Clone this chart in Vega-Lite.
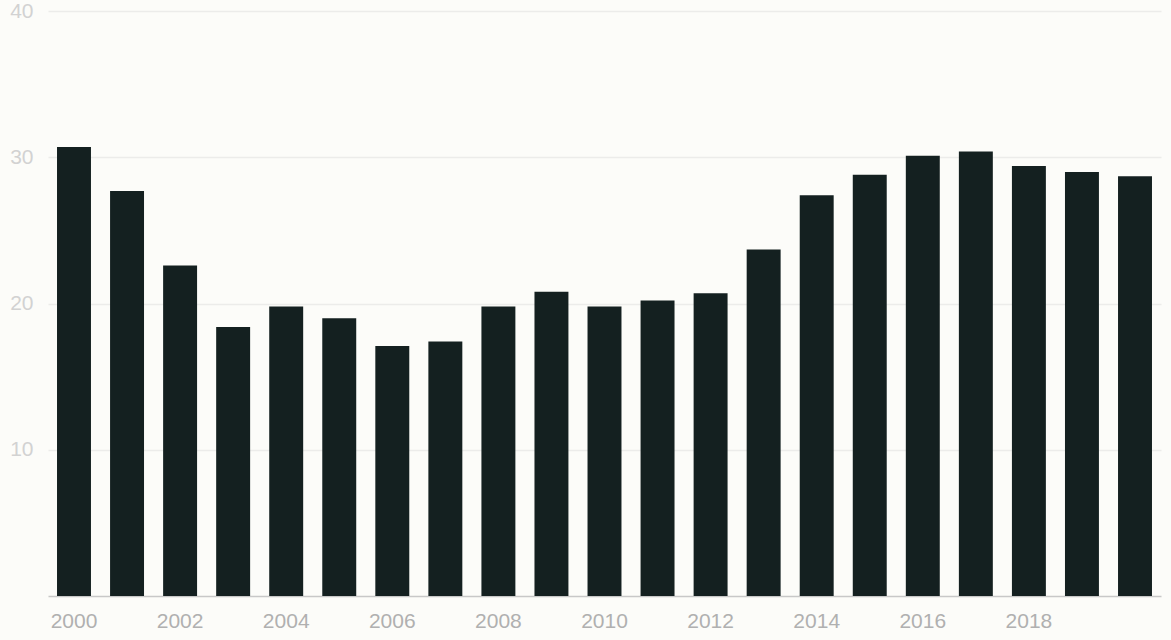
{
  "$schema": "https://vega.github.io/schema/vega-lite/v6.json",
  "width": 1113,
  "height": 585,
  "autosize": {"type": "none"},
  "padding": {"left": 48, "top": 11, "right": 10, "bottom": 44},
  "background": "#fcfcf9",
  "config": {
    "view": {"stroke": null},
    "font": "Liberation Sans"
  },
  "data": {
    "values": [
      {"year": 2000, "value": 30.7},
      {"year": 2001, "value": 27.7},
      {"year": 2002, "value": 22.6},
      {"year": 2003, "value": 18.4},
      {"year": 2004, "value": 19.8},
      {"year": 2005, "value": 19.0},
      {"year": 2006, "value": 17.1},
      {"year": 2007, "value": 17.4},
      {"year": 2008, "value": 19.8},
      {"year": 2009, "value": 20.8},
      {"year": 2010, "value": 19.8},
      {"year": 2011, "value": 20.2},
      {"year": 2012, "value": 20.7},
      {"year": 2013, "value": 23.7},
      {"year": 2014, "value": 27.4},
      {"year": 2015, "value": 28.8},
      {"year": 2016, "value": 30.1},
      {"year": 2017, "value": 30.4},
      {"year": 2018, "value": 29.4},
      {"year": 2019, "value": 29.0},
      {"year": 2020, "value": 28.7}
    ]
  },
  "mark": {"type": "bar", "color": "#142020"},
  "encoding": {
    "x": {
      "field": "year",
      "type": "ordinal",
      "scale": {"paddingInner": 0.36, "paddingOuter": 0.17},
      "axis": {
        "title": null,
        "values": [2000, 2002, 2004, 2006, 2008, 2010, 2012, 2014, 2016, 2018],
        "labelAngle": 0,
        "labelColor": "#b0b0b0",
        "labelFontSize": 21,
        "labelPadding": 25,
        "labelBaseline": "middle",
        "ticks": false,
        "domainColor": "#c8c8c8",
        "domainWidth": 1.5,
        "grid": false
      }
    },
    "y": {
      "field": "value",
      "type": "quantitative",
      "scale": {"domain": [0, 40]},
      "axis": {
        "title": null,
        "values": [10, 20, 30, 40],
        "labelColor": "#d2d2d2",
        "labelFontSize": 21,
        "labelPadding": 15,
        "ticks": false,
        "domain": false,
        "gridColor": "#ececea",
        "gridWidth": 1.5
      }
    }
  }
}
